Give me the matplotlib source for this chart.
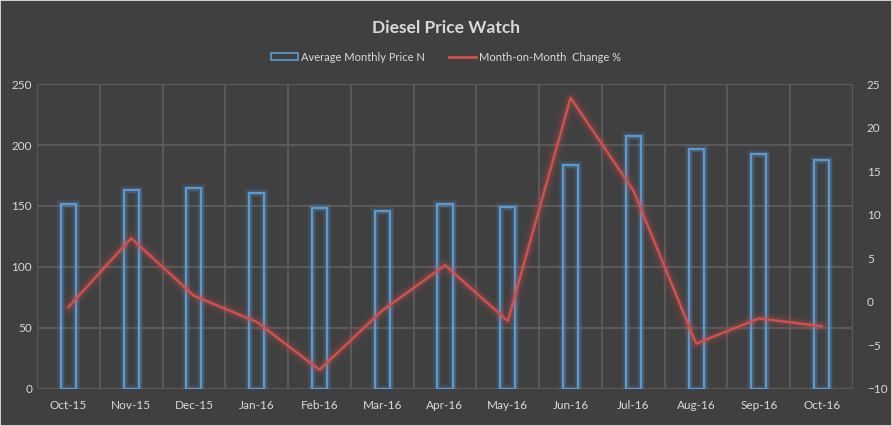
import matplotlib
matplotlib.use("Agg")
import matplotlib.pyplot as plt
import matplotlib.patheffects as pe
from matplotlib.patches import Patch
from matplotlib.lines import Line2D
import numpy as np

plt.rcParams['font.family'] = ['Lato', 'DejaVu Sans']

# 数据
months = ['Oct-15', 'Nov-15', 'Dec-15', 'Jan-16', 'Feb-16', 'Mar-16', 'Apr-16',
          'May-16', 'Jun-16', 'Jul-16', 'Aug-16', 'Sep-16', 'Oct-16']
avg_price = [152, 163.5, 164.5, 160.5, 148, 146, 152, 149, 184, 207, 197, 193, 187.5]
mom_change = [-0.6, 7.3, 0.7, -2.3, -7.8, -1.0, 4.2, -2.2, 23.4, 12.8, -4.8, -1.9, -2.8]

bg = '#404040'
grid_c = '#595959'
txt_c = '#d9d9d9'
blue = '#5b9bd5'
red = '#d0504d'

fig = plt.figure(figsize=(8.92, 4.26), dpi=100, facecolor=bg)
ax = fig.add_axes([0.0415, 0.0869, 0.9148, 0.7159])
ax.set_facecolor(bg)
x = np.arange(len(months))

bars = ax.bar(x, avg_price, width=0.24, facecolor='none', edgecolor=blue, linewidth=1.4, zorder=3)
for b in bars:
    b.set_path_effects([pe.Stroke(linewidth=6, foreground=blue, alpha=0.12),
                        pe.Stroke(linewidth=3.5, foreground=blue, alpha=0.25),
                        pe.Normal()])

ax.set_xlim(-0.5, len(months) - 0.5)
ax.set_ylim(0, 250)
ax.set_yticks(range(0, 251, 50))
ax.set_xticks(x)
ax.set_xticklabels(months)
ax.set_xticks(np.arange(-0.5, len(months), 1), minor=True)
ax.grid(axis='y', which='major', color=grid_c, linewidth=1.5, zorder=0)
ax.grid(axis='x', which='minor', color=grid_c, linewidth=1.5, zorder=0)
ax.tick_params(axis='both', which='both', length=0, colors=txt_c, labelsize=8.5)
ax.tick_params(axis='x', pad=8)
for s in ax.spines.values():
    s.set_visible(False)

ax2 = ax.twinx()
ax2.set_ylim(-10, 25)
ax2.set_yticks(range(-10, 26, 5))
ax2.tick_params(axis='y', length=0, colors=txt_c, labelsize=8.5, pad=10)
for s in ax2.spines.values():
    s.set_visible(False)
ax2.plot(x, mom_change, color=red, linewidth=1.8, zorder=4,
         path_effects=[pe.Stroke(linewidth=10, foreground=red, alpha=0.08),
                       pe.Stroke(linewidth=5.5, foreground=red, alpha=0.18),
                       pe.Normal()])

fig.text(0.5, 0.934, 'Diesel Price Watch', ha='center', va='center',
         fontsize=12.5, fontweight='bold', color=txt_c)

handles = [Patch(facecolor='none', edgecolor=blue, linewidth=1.2),
           Line2D([0], [0], color=red, linewidth=2)]
leg = fig.legend(handles, ['Average Monthly Price N', 'Month-on-Month  Change %'],
                 loc='center', bbox_to_anchor=(0.5, 0.866), ncol=2, frameon=False,
                 fontsize=8, labelcolor=txt_c, handlelength=2.4, handleheight=0.5,
                 handletextpad=0.3, columnspacing=2.2)

fig.patch.set_edgecolor('#d0d0d0')
fig.patch.set_linewidth(1.2)

plt.savefig('out.png', dpi=100, facecolor=bg, edgecolor='#d0d0d0')
